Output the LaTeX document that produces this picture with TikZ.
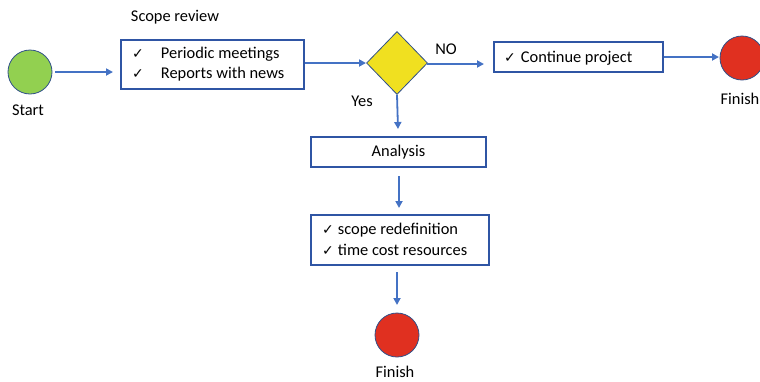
\documentclass[tikz,border=0pt]{standalone}
\usepackage{fontspec}
\setmainfont{Carlito}
\newfontfamily\symf{DejaVu Sans}
\usetikzlibrary{shapes.geometric,arrows.meta}
\definecolor{arrowblue}{HTML}{4472C4}
\definecolor{boxblue}{HTML}{2F55A4}
\definecolor{startgreen}{HTML}{92D050}
\definecolor{finishred}{HTML}{E03020}
\definecolor{decyellow}{HTML}{F0E020}
\newcommand{\ck}{{\symf\fontsize{14}{16}\selectfont ✓}}
\begin{document}
\begin{tikzpicture}[x=1pt,y=-1pt,
  every node/.style={font=\fontsize{16.4}{19}\selectfont},
  box/.style={draw=boxblue,line width=1.8pt,fill=white,inner sep=0pt},
  conn/.style={draw=arrowblue,line width=1.8pt,-{Triangle[length=7pt,width=7pt]}},
  startc/.style={circle,draw=arrowblue!70!black,line width=0.8pt,fill=startgreen,minimum size=44pt,inner sep=0pt},
  finishc/.style={circle,draw=arrowblue!70!black,line width=0.8pt,fill=finishred,minimum size=44pt,inner sep=0pt},
  lbl/.style={inner sep=0pt}]
\useasboundingbox (0,0) rectangle (760,381);
% nodes
\node[startc] (start) at (30,72) {};
\node[lbl] (startl) at (28,110) {Start};
\node[box,minimum width=183pt,minimum height=49pt] (scope) at (212.5,64.5) {};
\node[lbl] (scopel) at (175,17) {Scope review};
\node[lbl,anchor=west] (s1) at (132,54) {\ck\hspace{17pt}Periodic meetings};
\node[lbl,anchor=west] (s2) at (132,74) {\ck\hspace{17pt}Reports with news};
\node[diamond,draw=arrowblue!70!black,line width=0.8pt,fill=decyellow,minimum width=61pt,minimum height=63pt,inner sep=0pt] (dec) at (397,63) {};
\node[lbl] (nol) at (446,49) {NO};
\node[lbl] (yesl) at (362,101) {Yes};
\node[box,minimum width=169pt,minimum height=30pt] (cont) at (578.5,57) {};
\node[lbl,anchor=west] (contl) at (504,58) {\ck\hspace{5pt}Continue project};
\node[finishc] (fin1) at (742,58) {};
\node[lbl] (fin1l) at (740,99) {Finish};
\node[box,minimum width=175pt,minimum height=30pt] (ana) at (398.5,152) {};
\node[lbl] (anal) at (398.5,152) {Analysis};
\node[box,minimum width=178pt,minimum height=50pt] (redef) at (400,240) {};
\node[lbl,anchor=west] (r1) at (322,230) {\ck\hspace{4pt}scope redefinition};
\node[lbl,anchor=west] (r2) at (322,250) {\ck\hspace{4pt}time cost resources};
\node[finishc] (fin2) at (397,335) {};
\node[lbl] (fin2l) at (395,372) {Finish};
% connectors
\coordinate (a1s) at (55,72);
\coordinate (a1e) at (113,72);
\draw[conn] (a1s) -- (a1e);
\coordinate (a2e) at (366,63);
\draw[conn] (scope.east |- a2e) -- (a2e);
\coordinate (a3s) at (427,64);
\coordinate (a3e) at (484,64);
\draw[conn] (a3s) -- (a3e);
\coordinate (a4e) at (719,57);
\draw[conn] (cont.east |- a4e) -- (a4e);
\coordinate (a5e) at (398,129);
\draw[conn] (dec.south) -- (a5e);
\coordinate (a6s) at (399,176);
\coordinate (a6e) at (399,208);
\draw[conn] (a6s) -- (a6e);
\coordinate (a7s) at (397,272);
\coordinate (a7e) at (397,305);
\draw[conn] (a7s) -- (a7e);
\end{tikzpicture}
\end{document}
